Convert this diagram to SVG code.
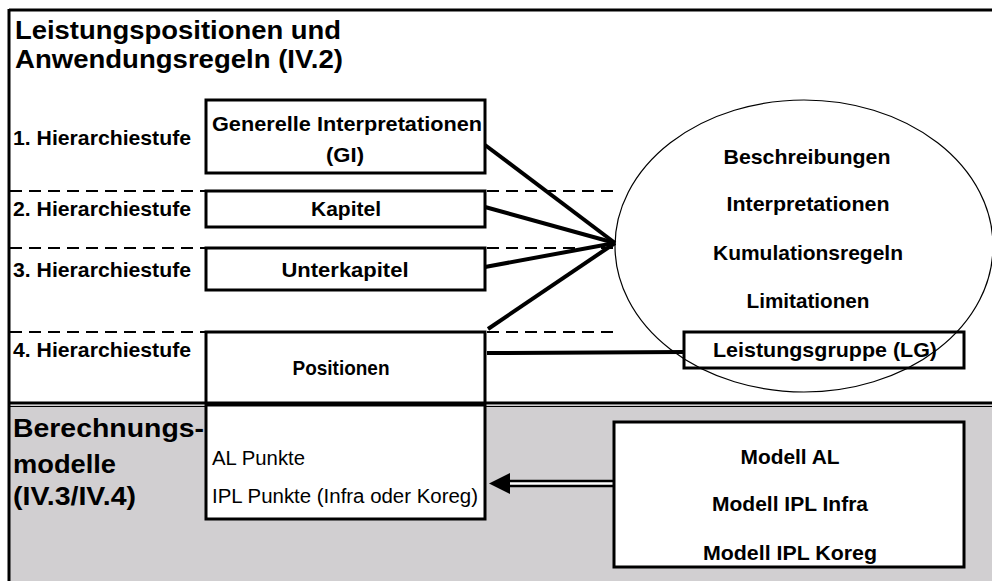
<svg xmlns="http://www.w3.org/2000/svg" width="992" height="581" viewBox="0 0 992 581">
<style>
text{font-family:"Liberation Sans",Arial,sans-serif;fill:#000}
.t{font-size:26px;font-weight:bold}
.b{font-size:20.5px;font-weight:bold}
.r{font-size:20px}
.box{fill:#fff;stroke:#000;stroke-width:3}
.dash{stroke:#000;stroke-width:2;stroke-dasharray:12 7;fill:none}
.con{stroke:#000;stroke-width:4;fill:none;stroke-linecap:butt}
</style>
<rect x="0" y="0" width="992" height="581" fill="#fff"/>
<rect id="calc-area" x="9" y="405" width="990" height="180" fill="#d1cfd1"/>
<g id="frame" stroke="#000" fill="none">
<line x1="9" y1="10" x2="992" y2="10" stroke-width="3"/>
<line x1="9" y1="9" x2="9" y2="581" stroke-width="3"/>
<line x1="9" y1="403" x2="992" y2="403" stroke-width="3"/>
<line x1="9" y1="406.5" x2="992" y2="406.5" stroke-width="1.2"/>
</g>
<g id="title">
<text class="t" x="15" y="39" textLength="326" lengthAdjust="spacingAndGlyphs">Leistungspositionen und</text>
<text class="t" x="15" y="68" textLength="328" lengthAdjust="spacingAndGlyphs">Anwendungsregeln (IV.2)</text>
</g>
<g id="levels">
<text class="b" x="13" y="145" textLength="178" lengthAdjust="spacingAndGlyphs">1. Hierarchiestufe</text>
<text class="b" x="13" y="216" textLength="178" lengthAdjust="spacingAndGlyphs">2. Hierarchiestufe</text>
<text class="b" x="13" y="277" textLength="178" lengthAdjust="spacingAndGlyphs">3. Hierarchiestufe</text>
<text class="b" x="13" y="357" textLength="178" lengthAdjust="spacingAndGlyphs">4. Hierarchiestufe</text>
</g>
<g id="dividers">
<line class="dash" x1="10" y1="191" x2="206" y2="191"/>
<line class="dash" x1="487" y1="191" x2="617" y2="191"/>
<line class="dash" x1="10" y1="248" x2="206" y2="248"/>
<line class="dash" x1="487" y1="248" x2="617" y2="248"/>
<line class="dash" x1="10" y1="332" x2="206" y2="332"/>
<line class="dash" x1="487" y1="332" x2="617" y2="332"/>
</g>
<g id="ellipse-rules">
<ellipse cx="804" cy="246" rx="189" ry="146" fill="none" stroke="#000" stroke-width="1.2"/>
<text class="b" x="807" y="164" text-anchor="middle" textLength="167" lengthAdjust="spacingAndGlyphs">Beschreibungen</text>
<text class="b" x="808" y="211" text-anchor="middle" textLength="163" lengthAdjust="spacingAndGlyphs">Interpretationen</text>
<text class="b" x="808" y="260" text-anchor="middle" textLength="190" lengthAdjust="spacingAndGlyphs">Kumulationsregeln</text>
<text class="b" x="808" y="308" text-anchor="middle" textLength="123" lengthAdjust="spacingAndGlyphs">Limitationen</text>
</g>
<g id="connectors">
<line class="con" x1="485" y1="145" x2="615" y2="243"/>
<line class="con" x1="485" y1="207" x2="615" y2="243"/>
<line class="con" x1="485" y1="267" x2="615" y2="243"/>
<line class="con" x1="488" y1="329" x2="615" y2="243"/>
<line class="con" x1="487" y1="353" x2="684" y2="352"/>
<line x1="505" y1="483.5" x2="614" y2="483.5" stroke="#000" stroke-width="7.5"/>
<line x1="504" y1="483.5" x2="613" y2="483.5" stroke="#fff" stroke-width="2.6"/>
<polygon points="489,483.5 510,473 510,494" fill="#000"/>
</g>
<g id="gi">
<rect class="box" x="206" y="100" width="279" height="73"/>
<text class="b" x="347" y="131" text-anchor="middle" textLength="270" lengthAdjust="spacingAndGlyphs">Generelle Interpretationen</text>
<text class="b" x="345" y="162" text-anchor="middle" textLength="38" lengthAdjust="spacingAndGlyphs">(GI)</text>
</g>
<g id="kapitel">
<rect class="box" x="206" y="191" width="279" height="36"/>
<text class="b" x="346" y="216" text-anchor="middle" textLength="70" lengthAdjust="spacingAndGlyphs">Kapitel</text>
</g>
<g id="unterkapitel">
<rect class="box" x="206" y="248" width="279" height="42"/>
<text class="b" x="345" y="277" text-anchor="middle" textLength="127" lengthAdjust="spacingAndGlyphs">Unterkapitel</text>
</g>
<g id="positionen">
<path d="M206,403 V332 H485 V403" fill="none" stroke="#000" stroke-width="3"/>
<text class="b" x="341" y="375" text-anchor="middle" textLength="97" lengthAdjust="spacingAndGlyphs">Positionen</text>
</g>
<g id="punkte">
<rect class="box" x="206" y="405" width="279" height="114"/>
<text class="r" x="212" y="465" textLength="93" lengthAdjust="spacingAndGlyphs">AL Punkte</text>
<text class="r" x="212" y="503" textLength="266" lengthAdjust="spacingAndGlyphs">IPL Punkte (Infra oder Koreg)</text>
</g>
<g id="lg">
<rect x="684" y="332" width="280" height="36" fill="none" stroke="#000" stroke-width="3"/>
<text class="b" x="825" y="357" text-anchor="middle" textLength="224" lengthAdjust="spacingAndGlyphs">Leistungsgruppe (LG)</text>
</g>
<g id="calc-label">
<text class="t" x="13" y="437" textLength="191" lengthAdjust="spacingAndGlyphs">Berechnungs-</text>
<text class="t" x="13" y="473" textLength="103" lengthAdjust="spacingAndGlyphs">modelle</text>
<text class="t" x="13" y="505" textLength="123" lengthAdjust="spacingAndGlyphs">(IV.3/IV.4)</text>
</g>
<g id="modelle">
<rect class="box" x="614" y="422" width="350" height="145"/>
<text class="b" x="790" y="464" text-anchor="middle" textLength="99" lengthAdjust="spacingAndGlyphs">Modell AL</text>
<text class="b" x="790" y="511" text-anchor="middle" textLength="156" lengthAdjust="spacingAndGlyphs">Modell IPL Infra</text>
<text class="b" x="790" y="560" text-anchor="middle" textLength="174" lengthAdjust="spacingAndGlyphs">Modell IPL Koreg</text>
</g>
</svg>
